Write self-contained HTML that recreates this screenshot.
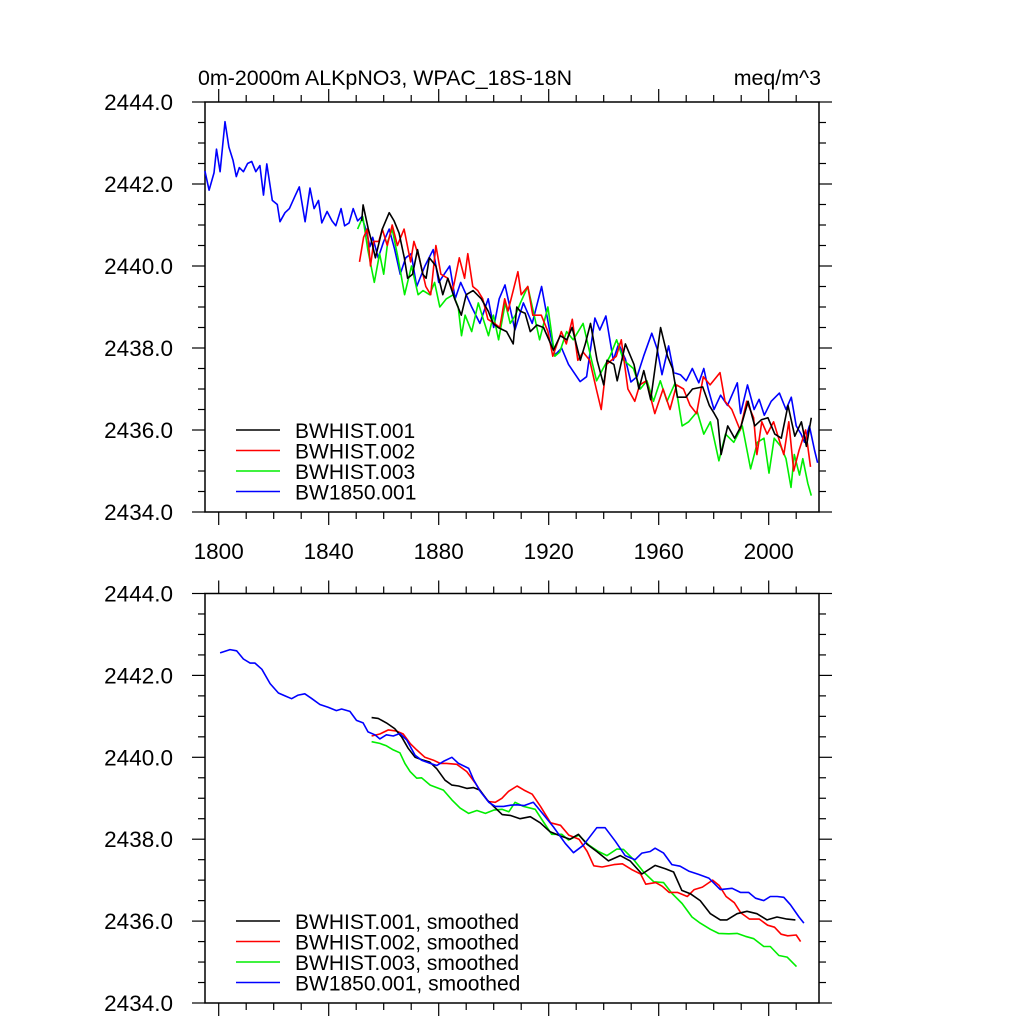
<!DOCTYPE html>
<html><head><meta charset="utf-8"><style>
html,body{margin:0;padding:0;background:#fff;}
svg text{font-family:"Liberation Sans",sans-serif;fill:#000;}
</style></head><body>
<svg id="chart" width="1024" height="1024" viewBox="0 0 1024 1024" xmlns="http://www.w3.org/2000/svg">
<text x="198" y="85" font-size="21.4">0m-2000m ALKpNO3, WPAC_18S-18N</text>
<text x="821" y="85" font-size="21.4" text-anchor="end">meq/m^3</text>
<g id="top"></g>
<g id="bot"></g>
</svg>
<script>
const xTicks=[1800,1840,1880,1920,1960,2000];
const yTicks=[2434,2436,2438,2440,2442,2444];
const seriesNames=["BWHIST.001","BWHIST.002","BWHIST.003","BW1850.001"];
const seriesColors=["#000","#f00","#0e0","#00f"];
// raw annual series (year, value)
const blueYears=[1795,1796.5,1798.3,1799.2,1800.5,1802.3,1803.7,1805.2,1806.4,1807.5,1809,1810.5,1812,1813.5,1815,1816.3,1817.5,1819.5,1821.3,1822.3,1824.1,1825.7,1827.7,1829.3,1831.4,1833.2,1834.7,1836.3,1837.5,1839.4,1841.2,1842.6,1844.5,1845.8,1847.4,1848.9,1850.5,1852,1853.5,1855,1856,1858,1860,1862,1864,1866,1868,1870,1872,1875,1878,1880,1882,1884,1886,1888,1890,1892,1895,1898,1900,1902,1904.1,1907.7,1910.8,1914,1917.4,1920.4,1922.3,1924.7,1927.2,1931.4,1933.8,1936.8,1938.6,1940.8,1943.5,1945.4,1947.9,1949.9,1952.1,1954.5,1957.5,1959.4,1961.2,1963.6,1965.5,1967.9,1970,1972.2,1974.6,1976.4,1978,1980.1,1982.5,1985,1988.6,1989.8,1992.3,1994.7,1996.5,1998.4,2000.9,2003.9,2006.3,2008.2,2010,2011.8,2013,2014.8,2016.7,2017.8];
const blueVals=[2442.32,2441.85,2442.27,2442.85,2442.3,2443.52,2442.9,2442.58,2442.18,2442.4,2442.3,2442.5,2442.55,2442.3,2442.45,2441.73,2442.49,2441.6,2441.5,2441.08,2441.3,2441.4,2441.7,2441.93,2441.08,2441.9,2441.4,2441.6,2441.05,2441.33,2441.1,2440.98,2441.4,2440.98,2441.05,2441.4,2441.1,2441.2,2440.9,2440.47,2440.7,2440.2,2440.6,2440.9,2440.4,2439.8,2440.2,2440.3,2439.5,2440.0,2440.4,2439.6,2439.8,2440.0,2439.2,2439.6,2439.3,2439.0,2438.6,2439.2,2438.5,2439.2,2439.54,2438.44,2439.1,2438.6,2439.5,2438.4,2437.83,2438.0,2437.6,2437.18,2437.3,2438.73,2438.44,2438.78,2437.7,2438.1,2437.73,2437.17,2437.3,2437.8,2438.36,2437.98,2437.35,2438.05,2437.4,2437.35,2437.2,2437.5,2437.15,2437.5,2437.0,2436.5,2436.85,2436.6,2437.15,2436.4,2437.1,2436.5,2436.75,2436.36,2436.7,2436.9,2436.5,2436.8,2436.1,2435.9,2435.7,2436.1,2435.5,2435.2];
const blackYears=[1852,1852.5,1854.4,1855.6,1857,1859.5,1862,1863.8,1865.6,1867.5,1868.7,1870.5,1872.3,1874.2,1875.4,1876.6,1879,1881.5,1883.3,1885.8,1888.2,1890,1892.5,1895.5,1898,1899.8,1901.6,1904.7,1907.1,1908.4,1909.6,1911.4,1913.3,1915.7,1918.1,1921.7,1924.2,1926.6,1928.5,1931.5,1933.3,1935.2,1937.6,1940,1941.2,1943.7,1944.9,1947.9,1951,1952.8,1954.6,1957.1,1960.7,1963.2,1965,1966.8,1969.9,1972.3,1976,1978.4,1980.2,1981.5,1982.7,1985.1,1987.6,1990,1992.5,1994.9,1997.3,1999.7,2002.2,2004.6,2007,2009.5,2011.9,2013.7,2015.5];
const blackVals=[2441.1,2441.49,2440.9,2440.6,2440.2,2440.9,2441.3,2441.1,2440.8,2440.2,2439.7,2439.8,2440.4,2439.8,2439.7,2440.2,2440.0,2439.3,2439.7,2439.2,2438.8,2439.3,2439.4,2439.2,2438.9,2438.6,2438.5,2438.4,2438.1,2439.0,2438.9,2438.85,2438.4,2438.56,2438.5,2437.95,2438.3,2438.2,2438.5,2437.7,2438.1,2438.6,2437.7,2437.1,2437.7,2437.6,2437.2,2438.1,2437.6,2437.0,2437.45,2436.74,2438.5,2437.8,2437.5,2436.8,2436.8,2437.0,2437.05,2436.6,2436.4,2436.25,2435.4,2436.1,2435.8,2436.1,2436.7,2436.1,2436.25,2436.3,2435.9,2435.8,2436.6,2435.85,2436.2,2435.6,2436.3];
const redYears=[1851.2,1852.7,1854,1855.2,1856.4,1858.2,1859.5,1861.3,1863.1,1865,1867.4,1869.8,1871,1872.9,1875.3,1877.1,1879,1880.8,1883.3,1885.1,1887.5,1889.4,1890.6,1892.4,1894.2,1896,1897.9,1900.3,1902.2,1904,1905.2,1907.1,1908.8,1910,1912.4,1914.2,1917.3,1919.7,1921.5,1924.6,1926.4,1928.6,1930.6,1932.5,1934.9,1937.3,1939.1,1941,1944.6,1946.4,1948.8,1951.3,1953.1,1955.5,1958.6,1961.6,1964.1,1966.5,1969,1971.4,1973.8,1976.2,1978.7,1982.3,1984.1,1986.6,1989.6,1992,1994.5,1995.7,1997.5,1999.4,2001.8,2003.6,2005.5,2007.3,2009.1,2011,2013.4,2015.2];
const redVals=[2440.1,2440.7,2440.9,2440.0,2440.6,2440.6,2440.9,2440.5,2441.0,2440.5,2440.9,2440.1,2440.6,2440.2,2439.5,2439.3,2440.5,2439.8,2439.7,2439.4,2440.2,2439.7,2440.3,2439.5,2439.4,2439.2,2438.7,2438.6,2438.5,2439.2,2438.9,2439.4,2439.86,2439.3,2439.5,2438.8,2438.8,2438.4,2437.8,2438.4,2438.1,2438.7,2437.7,2437.9,2437.7,2437.0,2436.5,2437.6,2437.8,2438.2,2437.0,2436.7,2437.1,2437.2,2436.4,2437.0,2436.5,2437.1,2437.0,2436.6,2436.4,2437.3,2437.1,2437.4,2436.7,2436.5,2436.0,2436.7,2436.3,2435.4,2436.2,2435.9,2436.2,2435.8,2435.4,2436.2,2435.0,2435.5,2436.0,2435.1];
const greenYears=[1850.5,1852.4,1854.2,1856.6,1858.5,1860,1861.5,1863.1,1865.2,1867.6,1870.1,1872.5,1874.3,1876.7,1878.5,1880.4,1882.8,1885.3,1887.1,1888.3,1889.6,1892,1894.4,1896.2,1898.1,1899.9,1901.8,1904.2,1906,1907.9,1909.7,1912.4,1916.7,1919.7,1922.2,1924,1926.5,1928.9,1932.5,1935.6,1937.4,1939.8,1942.3,1944.7,1947.2,1950.8,1953.3,1955.7,1958.1,1960.6,1963,1966,1968.5,1970.9,1974,1976.4,1978.8,1981.9,1984.3,1987.3,1990.4,1993.4,1995.9,1998.3,2000.1,2002,2004.4,2006.3,2008.1,2009.3,2011.2,2012.4,2014.2,2015.5];
const greenVals=[2440.9,2441.2,2440.4,2439.6,2440.3,2439.8,2440.6,2440.9,2440.2,2439.3,2440.0,2439.3,2439.4,2439.3,2439.6,2439.0,2439.2,2439.3,2439.0,2438.3,2438.8,2438.4,2439.1,2438.7,2438.3,2438.8,2438.2,2439.1,2438.6,2438.8,2439.1,2439.5,2438.2,2439.0,2437.8,2437.9,2438.4,2438.2,2438.6,2437.7,2437.2,2437.5,2437.8,2438.2,2437.7,2437.5,2437.0,2437.2,2436.7,2437.2,2436.7,2437.15,2436.1,2436.2,2436.45,2435.9,2436.2,2435.25,2435.9,2435.7,2436.1,2435.05,2435.7,2435.8,2434.95,2435.8,2435.6,2435.3,2434.6,2435.4,2434.9,2435.3,2434.7,2434.4];
// smoothed series
const sBlueYears=[1800.5,1804.1,1806.5,1809,1811.4,1813.2,1815.7,1818.7,1821.7,1824.1,1826.5,1828.9,1831.3,1833.7,1836.8,1839.8,1842.8,1844.7,1847.7,1850.1,1852.5,1854.3,1856.8,1858.6,1861,1863.5,1865.9,1868.4,1871.4,1873.8,1876.9,1879.3,1881.7,1884.8,1887.2,1890.9,1892.7,1895.1,1898.2,1900.6,1903.6,1906.1,1908.4,1911,1914.4,1918.1,1921.7,1926,1929,1932.6,1937.5,1940.5,1944.2,1947.8,1951.4,1953.9,1956.9,1958.7,1961.8,1964.8,1967.8,1970.9,1974.5,1978.2,1982.4,1986.7,1989.7,1992.7,1995.2,1998.2,2000.6,2003.1,2005.5,2007.9,2011,2012.8];
const sBlueVals=[2442.55,2442.63,2442.6,2442.4,2442.3,2442.3,2442.15,2441.8,2441.57,2441.5,2441.43,2441.52,2441.55,2441.44,2441.29,2441.22,2441.14,2441.18,2441.12,2440.9,2440.84,2440.62,2440.55,2440.45,2440.55,2440.52,2440.58,2440.42,2440.05,2439.93,2439.85,2439.8,2439.9,2440.0,2439.85,2439.73,2439.45,2439.17,2438.9,2438.8,2438.8,2438.83,2438.84,2438.82,2438.9,2438.6,2438.3,2437.9,2437.67,2437.85,2438.28,2438.28,2437.95,2437.6,2437.5,2437.66,2437.7,2437.78,2437.66,2437.38,2437.34,2437.22,2437.14,2437.05,2436.77,2436.8,2436.7,2436.7,2436.56,2436.5,2436.6,2436.6,2436.58,2436.4,2436.1,2435.95];
const sBlackYears=[1855.6,1858,1861,1864,1866.5,1868.9,1871.4,1874.4,1876.8,1879.3,1882.3,1884.8,1887.2,1890.2,1892.7,1895,1897.6,1900,1903.1,1906,1909.6,1913.3,1916.9,1920.5,1924.2,1927.8,1930.8,1933.9,1937.5,1941.7,1946,1949.6,1953.9,1958.7,1962.4,1965.4,1968.4,1971.5,1975.1,1978.8,1982.4,1984.8,1988.5,1992.1,1995.7,1999.4,2003,2006.7,2009.7];
const sBlackVals=[2440.97,2440.95,2440.84,2440.7,2440.5,2440.22,2440.0,2439.93,2439.88,2439.72,2439.44,2439.32,2439.3,2439.24,2439.26,2439.2,2438.96,2438.8,2438.6,2438.58,2438.5,2438.55,2438.4,2438.18,2438.08,2438.0,2438.12,2437.88,2437.7,2437.47,2437.6,2437.47,2437.15,2437.36,2437.28,2437.2,2436.75,2436.67,2436.5,2436.18,2436.03,2436.03,2436.18,2436.24,2436.18,2436.03,2436.1,2436.05,2436.03];
const sRedYears=[1855.6,1858.6,1861.7,1864.7,1867.1,1869.6,1872,1875,1878.1,1880.5,1882.9,1886.6,1890.2,1893.3,1895.7,1898.1,1900.6,1903,1905.4,1908.5,1911,1914,1917,1920.7,1924.3,1927.3,1931,1934,1936.4,1939.4,1943.7,1946.8,1950.4,1953.4,1955.3,1958.9,1961.3,1963.8,1966.8,1970.4,1972.9,1975.9,1979.6,1982,1984.5,1987.5,1989.9,1993,1996.6,1999.6,2002.1,2004.5,2006.9,2010,2011.6];
const sRedVals=[2440.52,2440.57,2440.67,2440.64,2440.57,2440.34,2440.18,2440.0,2439.93,2439.85,2439.85,2439.83,2439.65,2439.37,2439.12,2438.92,2438.9,2439.0,2439.17,2439.3,2439.2,2439.1,2438.8,2438.4,2438.34,2438.1,2438.0,2437.7,2437.35,2437.32,2437.38,2437.4,2437.25,2437.15,2436.9,2436.94,2436.85,2436.7,2436.7,2436.6,2436.77,2436.83,2437.0,2436.87,2436.6,2436.45,2436.2,2436.05,2436.05,2435.9,2435.85,2435.68,2435.64,2435.66,2435.5];
const sGreenYears=[1855.6,1858.6,1861,1863.5,1865.9,1867.7,1869.6,1872,1873.8,1876.9,1879.3,1881.7,1884.8,1887.8,1890.9,1893.9,1897,1900,1903,1905.5,1907.8,1910.8,1915.1,1918.1,1921.1,1924.8,1927.2,1930.9,1934.5,1938.1,1941.2,1944.8,1947.2,1950.9,1954.5,1958.2,1961.8,1964.8,1968.5,1972.1,1975.1,1978.8,1981.8,1985.5,1988.5,1991.5,1994.6,1998.2,2000.6,2003.7,2006.7,2010.1];
const sGreenVals=[2440.38,2440.34,2440.28,2440.18,2440.11,2439.85,2439.65,2439.49,2439.5,2439.32,2439.26,2439.2,2438.96,2438.76,2438.63,2438.7,2438.63,2438.71,2438.73,2438.67,2438.9,2438.8,2438.73,2438.42,2438.12,2438.12,2437.98,2438.1,2437.86,2437.7,2437.6,2437.76,2437.75,2437.5,2437.2,2436.96,2436.94,2436.68,2436.43,2436.1,2435.95,2435.8,2435.7,2435.69,2435.7,2435.63,2435.57,2435.38,2435.38,2435.16,2435.12,2434.89];

const NS="http://www.w3.org/2000/svg";
const X0=205,X1=819,YMIN=2434,YMAX=2444;
const xScale=yr=>218.7+(yr-1800)*2.75;
function mk(tag,attrs,parent){const e=document.createElementNS(NS,tag);for(const k in attrs)e.setAttribute(k,attrs[k]);parent.appendChild(e);return e;}
function panel(g,top,bottom,showX,series,labels,legY){
  const yScale=v=>bottom-(v-YMIN)/(YMAX-YMIN)*(bottom-top);
  const fr=mk('rect',{x:X0,y:top,width:X1-X0,height:bottom-top,fill:'none',stroke:'#000','stroke-width':1.5},g);
  
  
  for(let v=YMIN;v<=YMAX+0.001;v+=0.5){
    const y=yScale(v);const maj=Math.abs(v-Math.round(v/2)*2)<0.01;const L=maj?13:7;
    const t1=mk('line',{x1:X0,x2:X0-L,y1:y,y2:y,stroke:'#000','stroke-width':1.2},g);
    
    
    const t2=mk('line',{x1:X1,x2:X1+L,y1:y,y2:y,stroke:'#000','stroke-width':1.2},g);
    
    
  }
  yTicks.forEach(v=>{const t=mk('text',{x:173,y:yScale(v)+8,'font-size':22.5,'text-anchor':'end'},g);t.textContent=v.toFixed(1);
    
    });
  for(let yr=1800;yr<=2010;yr+=10){
    const x=xScale(yr);const maj=(yr%40===0);const L=maj?13:7;
    const a=mk('line',{x1:x,x2:x,y1:top,y2:top-L,stroke:'#000','stroke-width':1.2},g);
    
    
    const b=mk('line',{x1:x,x2:x,y1:bottom,y2:bottom+L,stroke:'#000','stroke-width':1.2},g);
    
    
  }
  if(showX) xTicks.forEach(yr=>{const t=mk('text',{x:xScale(yr),y:bottom+47,'font-size':22.5,'text-anchor':'middle'},g);t.textContent=yr;
    
    });
  series.forEach((s,i)=>{
    const d=s[0].map((yr,j)=>(j?'L':'M')+xScale(yr).toFixed(1)+','+yScale(s[1][j]).toFixed(1)).join('');
    const p=mk('path',{d:d,fill:'none',stroke:s[2],'stroke-width':1.6,'stroke-linejoin':'round'},g);
    
    
  });
  labels.forEach((lab,i)=>{
    const y=legY+i*20.5;
    const l=mk('line',{x1:236,x2:280,y1:y,y2:y,stroke:seriesColors[i],'stroke-width':1.6},g);
    
    
    const t=mk('text',{x:295,y:y+8,'font-size':21},g);t.textContent=lab;
    
    
  });
}
panel(document.getElementById('top'),102,512,true,[
  [blueYears,blueVals,seriesColors[3],'bw1850-001'],
  [greenYears,greenVals,seriesColors[2],'bwhist-003'],
  [redYears,redVals,seriesColors[1],'bwhist-002'],
  [blackYears,blackVals,seriesColors[0],'bwhist-001']],seriesNames,430);
panel(document.getElementById('bot'),593.5,1003,false,[
  [sGreenYears,sGreenVals,seriesColors[2],'bwhist-003-smoothed'],
  [sRedYears,sRedVals,seriesColors[1],'bwhist-002-smoothed'],
  [sBlackYears,sBlackVals,seriesColors[0],'bwhist-001-smoothed'],
  [sBlueYears,sBlueVals,seriesColors[3],'bw1850-001-smoothed']],seriesNames.map(n=>n+', smoothed'),921);
</script>
</body></html>
